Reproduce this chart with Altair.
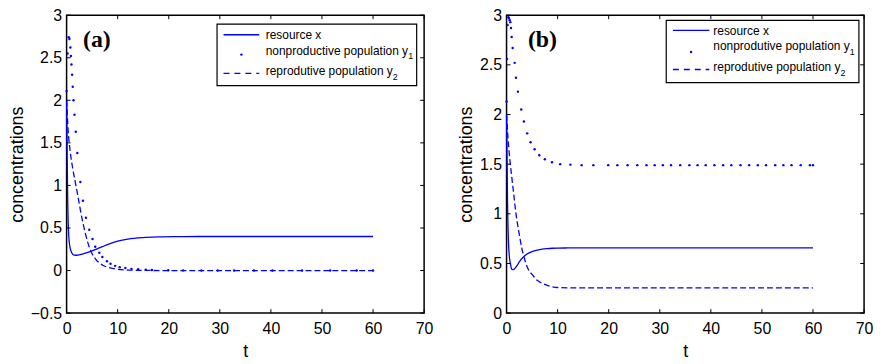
import altair as alt
import pandas as pd

BLUE = "#0000ff"
SANS = "Liberation Sans"
SERIF = "Liberation Serif"
W, H = 360, 300

# ---------------- tick values ----------------
x_ticks = [0, 10, 20, 30, 40, 50, 60, 70]
a_y_ticks = [-0.5, 0, 0.5, 1, 1.5, 2, 2.5, 3]
b_y_ticks = [0, 0.5, 1, 1.5, 2, 2.5, 3]

# ---------------- panel (a) ----------------
a_x_t = [0, 0.1, 0.2, 0.35, 0.55, 0.8, 1.1, 1.5, 2.0, 2.5, 3, 4, 5, 6, 7, 8, 10, 12, 15, 18, 22, 26, 30, 40, 50, 60]
a_x_v = [2.0, 1.4, 0.9, 0.5, 0.32, 0.24, 0.2, 0.182, 0.18, 0.185, 0.193, 0.21, 0.232, 0.255, 0.28, 0.305,
         0.345, 0.37, 0.388, 0.395, 0.398, 0.4, 0.4, 0.4, 0.4, 0.4]

a_y1_t = [0, 0.2, 0.43, 0.55, 0.74, 0.85, 0.95, 1.08, 1.2, 1.36, 1.55, 1.8, 2.1, 2.69, 3.2, 3.79, 4.43, 5.08,
          5.6, 6.4, 7.0, 7.9, 8.6, 9.5, 10.4, 11.5, 12.7, 14, 15.5, 16.7, 19.9, 22.8, 26.4, 29.6, 32.8, 36.7,
          40.3, 46.1, 51.6, 56.8, 60]
a_y1_v = [2.11, 2.55, 2.74, 2.72, 2.62, 2.52, 2.42, 2.30, 2.16, 2.0, 1.83, 1.63, 1.38, 1.04, 0.82, 0.62, 0.48,
          0.37, 0.28, 0.21, 0.16, 0.11, 0.08, 0.055, 0.04, 0.03, 0.02, 0.015, 0.01, 0.006, 0.003, 0.002, 0.001,
          0, 0, 0, 0, 0, 0, 0, 0]

a_y2_t = [0, 0.3, 0.7, 1.2, 1.7, 2.2, 2.7, 3.2, 3.7, 4.2, 4.8, 5.5, 6.2, 7, 8, 9, 10, 12, 15, 20, 60]
a_y2_v = [2.0, 1.65, 1.40, 1.20, 1.04, 0.88, 0.71, 0.56, 0.43, 0.32, 0.22, 0.15, 0.10, 0.066, 0.04, 0.025,
          0.015, 0.006, 0.002, 0, 0]

# ---------------- panel (b) ----------------
b_x_t = [0, 0.1, 0.2, 0.35, 0.55, 0.75, 0.95, 1.15, 1.4, 1.7, 2.0, 2.5, 3.0, 3.5, 4, 5, 6, 7, 8, 9, 10, 12,
         15, 20, 30, 40, 50, 60]
b_x_v = [2.0, 1.55, 1.1, 0.75, 0.57, 0.5, 0.45, 0.438, 0.44, 0.455, 0.475, 0.515, 0.55, 0.575, 0.595, 0.62,
         0.635, 0.645, 0.65, 0.653, 0.655, 0.656, 0.657, 0.657, 0.656, 0.656, 0.656, 0.656]

b_y1_t = [0, 0.1, 0.22, 0.35, 0.49, 0.62, 0.74, 0.87, 1.0, 1.2, 1.59, 1.84, 2.23, 2.88, 3.4, 4.04, 4.7, 5.5,
          6.4, 7.5, 8.9, 10.5, 12.5, 14.7, 17.0, 19.9, 21.7, 23.7, 25.6, 27.4, 29.0, 30.6, 32.2, 34.0, 35.8,
          37.4, 39.0, 40.7, 42.4, 44.0, 45.8, 47.5, 49.2, 50.8, 52.6, 54.2, 55.8, 57.6, 59.4, 60]
b_y1_v = [2.13, 2.56, 2.9, 2.98, 2.97, 2.95, 2.93, 2.87, 2.78, 2.67, 2.52, 2.37, 2.23, 2.05, 1.93, 1.81, 1.72,
          1.65, 1.59, 1.55, 1.52, 1.50, 1.495, 1.49, 1.49, 1.49, 1.49, 1.49, 1.49, 1.49, 1.49, 1.49, 1.49,
          1.49, 1.49, 1.49, 1.49, 1.49, 1.49, 1.49, 1.49, 1.49, 1.49, 1.49, 1.49, 1.49, 1.49, 1.49, 1.49, 1.49]

b_y2_t = [0, 0.3, 0.7, 1.0, 1.4, 1.8, 2.2, 2.6, 3.0, 3.5, 4.0, 4.5, 5, 6, 7, 8, 9, 10, 12, 15, 20, 60]
b_y2_v = [2.0, 1.75, 1.52, 1.38, 1.2, 1.02, 0.88, 0.76, 0.65, 0.55, 0.47, 0.42, 0.39, 0.33, 0.30, 0.28, 0.265,
          0.258, 0.255, 0.254, 0.254, 0.254]

# ---------------- texts ----------------
panel_tags = ["(a)", "(b)"]
legend_a = ["resource x", "nonproductive population y", "reprodutive population y"]
legend_b = ["resource x", "nonprodutive population y", "reprodutive population y"]
subscripts = ["1", "2"]
x_title = "t"
y_title = "concentrations"

# legend geometry (pixels inside the plot area)
LEG_A = dict(box=(151.5, 352.5, 9, 71), sym=(158, 194), sym_y=(19.7, 39.7, 58.7),
             txt_x=200.5, txt_y=(19.7, 35.7, 56.3), sub_x=(344, 328.5), sub_y=(41.5, 62.5))
LEG_B = dict(box=(160.8, 354.8, 5.3, 68), sym=(167.5, 204.2), sym_y=(15.3, 37, 54.7),
             txt_x=208.2, txt_y=(16, 31.3, 52), sub_x=(345.6, 336.2), sub_y=(37.5, 58.5))

one = pd.DataFrame({"k": [0]})


def panel(tag, tag_x, x_t, x_v, y1_t, y1_v, y2_t, y2_v, y_ticks, labels, leg):
    xs = alt.Scale(domain=[0, 70], nice=False, zero=False)
    ys = alt.Scale(domain=[y_ticks[0], y_ticks[-1]], nice=False, zero=False)
    xaxis = alt.Axis(values=x_ticks, title=x_title, format=".2~f", labelPadding=8, titlePadding=6)
    yaxis = alt.Axis(values=y_ticks, title=y_title, format=".2~f", labelPadding=5, titlePadding=4)

    def X():
        return alt.X("t:Q", scale=xs, axis=xaxis)

    def Y():
        return alt.Y("v:Q", scale=ys, axis=yaxis)

    df_x = pd.DataFrame({"t": x_t, "v": x_v})
    df_y1 = pd.DataFrame({"t": y1_t, "v": y1_v})
    df_y2 = pd.DataFrame({"t": y2_t, "v": y2_v})

    solid = alt.Chart(df_x).mark_line(color=BLUE, strokeWidth=1.3, interpolate="monotone").encode(
        x=X(), y=Y())
    dashed = alt.Chart(df_y2).mark_line(color=BLUE, strokeWidth=1.3, strokeDash=[6, 3],
                                        interpolate="monotone").encode(x=X(), y=Y())
    dots = alt.Chart(df_y1).mark_circle(color=BLUE, size=6, opacity=1).encode(x=X(), y=Y())

    tx = pd.DataFrame({"t": x_ticks})
    ty = pd.DataFrame({"v": y_ticks})
    rule = dict(color="black", strokeWidth=1)
    t_top = alt.Chart(tx).mark_rule(**rule).encode(x=X(), y=alt.value(0), y2=alt.value(4))
    t_bot = alt.Chart(tx).mark_rule(**rule).encode(x=X(), y=alt.value(H - 4), y2=alt.value(H))
    t_lft = alt.Chart(ty).mark_rule(**rule).encode(y=Y(), x=alt.value(0), x2=alt.value(4))
    t_rgt = alt.Chart(ty).mark_rule(**rule).encode(y=Y(), x=alt.value(W - 4), x2=alt.value(W))

    bx0, bx1, by0, by1 = leg["box"]
    box = alt.Chart(one).mark_rect(fill="white", stroke="black", strokeWidth=1.2).encode(
        x=alt.value(bx0), x2=alt.value(bx1), y=alt.value(by0), y2=alt.value(by1))
    s0, s1 = leg["sym"]
    l1 = alt.Chart(one).mark_rule(color=BLUE, strokeWidth=1.3).encode(
        x=alt.value(s0), x2=alt.value(s1), y=alt.value(leg["sym_y"][0]))
    l2 = alt.Chart(one).mark_circle(color=BLUE, size=6, opacity=1).encode(
        x=alt.value((s0 + s1) / 2), y=alt.value(leg["sym_y"][1]))
    l3 = alt.Chart(one).mark_rule(color=BLUE, strokeWidth=1.3, strokeDash=[6, 5]).encode(
        x=alt.value(s0), x2=alt.value(s1), y=alt.value(leg["sym_y"][2]))
    texts = []
    for lab, ty_ in zip(labels, leg["txt_y"]):
        texts.append(alt.Chart(one).mark_text(font=SANS, fontSize=12, align="left", baseline="middle",
                                              color="black").encode(
            x=alt.value(leg["txt_x"]), y=alt.value(ty_), text=alt.value(lab)))
    for s, sx, sy in zip(subscripts, leg["sub_x"], leg["sub_y"]):
        texts.append(alt.Chart(one).mark_text(font=SANS, fontSize=9, align="left", baseline="middle",
                                              color="black").encode(
            x=alt.value(sx), y=alt.value(sy), text=alt.value(s)))
    tag_mark = alt.Chart(one).mark_text(font=SERIF, fontSize=24, fontWeight="bold", align="left",
                                        baseline="middle", color="black").encode(
        x=alt.value(tag_x), y=alt.value(25), text=alt.value(tag))

    return alt.layer(solid, dashed, dots, t_top, t_bot, t_lft, t_rgt, box, l1, l2, l3, *texts,
                     tag_mark).properties(width=W, height=H)


pa = panel(panel_tags[0], 16.5, a_x_t, a_x_v, a_y1_t, a_y1_v, a_y2_t, a_y2_v, a_y_ticks, legend_a, LEG_A)
pb = panel(panel_tags[1], 21.5, b_x_t, b_x_v, b_y1_t, b_y1_v, b_y2_t, b_y2_v, b_y_ticks, legend_b, LEG_B)

chart = alt.hconcat(pa, pb, spacing=83, bounds="flush").properties(
    padding={"left": -1, "top": -3, "right": 0, "bottom": 0}
).configure_view(stroke="black", strokeWidth=1.5).configure_axis(
    domain=False, ticks=False, tickSize=0, grid=False, labelFont=SANS, labelFontSize=16, labelColor="black",
    titleFont=SANS, titleFontSize=18, titleFontWeight="normal", titleColor="black", labelFlush=False,
    labelOverlap=False
)

chart.save("out.html", embed_options={"renderer": "svg", "actions": False})
